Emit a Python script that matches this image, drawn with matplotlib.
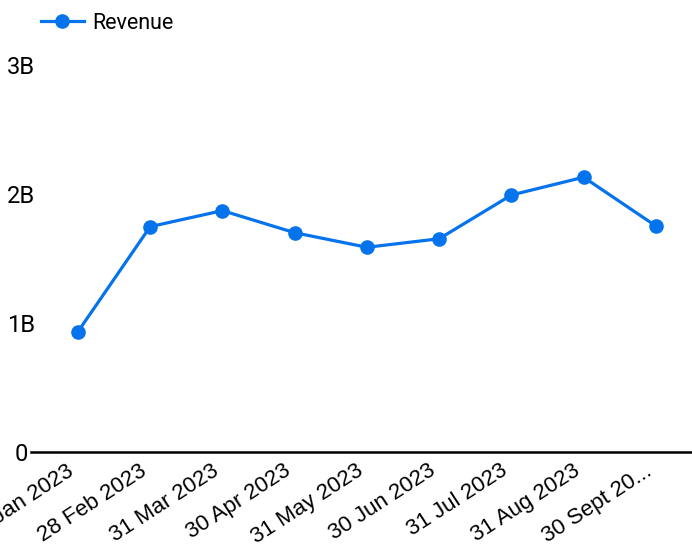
import matplotlib.pyplot as plt

# Datos (ingresos en miles de millones)
months = ["31 Jan 2023", "28 Feb 2023", "31 Mar 2023", "30 Apr 2023", "31 May 2023",
          "30 Jun 2023", "31 Jul 2023", "31 Aug 2023", "30 Sept 20..."]
revenue = [0.933e9, 1.747e9, 1.871e9, 1.700e9, 1.587e9, 1.653e9, 1.992e9, 2.130e9, 1.752e9]
y_ticks = [0, 1e9, 2e9, 3e9]
y_labels = ["0", "1B", "2B", "3B"]

color = '#0573EC'

fig = plt.figure(figsize=(6.92, 5.59), dpi=100)
ax = fig.add_axes([31 / 692, 1 - 452 / 559, 1 - 31 / 692, (452 - 65) / 559])

x = list(range(len(months)))
ax.plot(x, revenue, color=color, linewidth=2.3, marker='o', markersize=9.5,
        label='Revenue', clip_on=False)

ax.set_xlim(-0.65, 8.5)
ax.set_ylim(0, 3e9)

ax.set_yticks(y_ticks)
ax.set_yticklabels(y_labels, fontsize=17, family='Roboto')
for lbl in ax.get_yticklabels():
    lbl.set_ha('center')
ax.tick_params(axis='y', length=0, pad=7.2)

ax.set_xticks(x)
ax.set_xticklabels(months, rotation=33, ha='right', fontsize=16, family='Liberation Sans')
ax.tick_params(axis='x', length=0, pad=6)

for side in ['top', 'right', 'left']:
    ax.spines[side].set_visible(False)
ax.spines['bottom'].set_linewidth(1.8)
ax.spines['bottom'].set_color('black')

leg = fig.legend(loc='upper left', bbox_to_anchor=(0.031, 1.012), frameon=False,
                 prop={'family': 'Roboto', 'size': 15.5}, handlelength=2.0, handletextpad=0.4)

plt.savefig('out.png', dpi=100)
plt.close()
